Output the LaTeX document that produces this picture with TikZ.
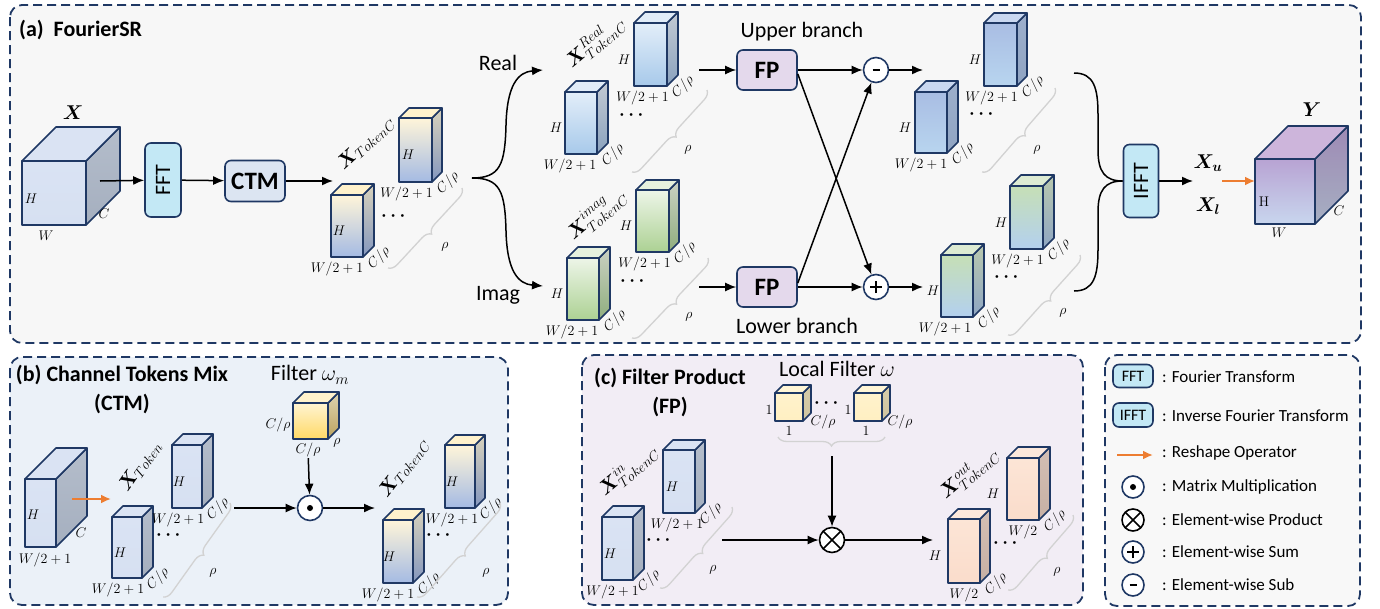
\RequirePackage{fix-cm}
\documentclass[tikz,border=0pt]{standalone}
\usepackage{amsmath,bm}
\usepackage{fontspec}
\setmainfont{Carlito}
\usetikzlibrary{positioning,calc,arrows.meta,decorations.pathreplacing}

\definecolor{navy}{HTML}{1F3864}
\definecolor{orng}{HTML}{ED7D31}
\definecolor{panela}{HTML}{F7F7F7}
\definecolor{panelb}{HTML}{EBF1F8}
\definecolor{panelc}{HTML}{F2EDF5}
\definecolor{panelg}{HTML}{F8F8F8}
\definecolor{fftfill}{HTML}{C3E8F5}
\definecolor{ctmfill}{HTML}{DCE5F2}
\definecolor{fpfill}{HTML}{E4D9EC}
% tensor colour sets: front top/bottom, side top/bottom, lid
\definecolor{plaintop}{HTML}{DAE3F3}\definecolor{plainbot}{HTML}{D6E0F2}
\definecolor{plainsidetop}{HTML}{B4BDCB}\definecolor{plainsidebot}{HTML}{A5AFBF}
\definecolor{plainlid}{HTML}{DAE3F3}
\definecolor{tokctop}{HTML}{FFF5D9}\definecolor{tokcbot}{HTML}{A4BAE3}
\definecolor{tokcsidetop}{HTML}{D8D2BC}\definecolor{tokcsidebot}{HTML}{8497BE}
\definecolor{tokclid}{HTML}{FFF2CC}
\definecolor{realtop}{HTML}{E3EEF9}\definecolor{realbot}{HTML}{A7C9EA}
\definecolor{realsidetop}{HTML}{C3CAD3}\definecolor{realsidebot}{HTML}{8AA2BE}
\definecolor{reallid}{HTML}{E1ECF8}
\definecolor{imagtop}{HTML}{EDF5E8}\definecolor{imagbot}{HTML}{ACD193}
\definecolor{imagsidetop}{HTML}{CBD2C4}\definecolor{imagsidebot}{HTML}{8FAD7D}
\definecolor{imaglid}{HTML}{E6F1DE}
\definecolor{upouttop}{HTML}{A9BDE3}\definecolor{upoutbot}{HTML}{B8D5EF}
\definecolor{upoutsidetop}{HTML}{9DAFCC}\definecolor{upoutsidebot}{HTML}{90A4C2}
\definecolor{upoutlid}{HTML}{C9D7F0}
\definecolor{lowouttop}{HTML}{C6DFB6}\definecolor{lowoutbot}{HTML}{B3D0EF}
\definecolor{lowoutsidetop}{HTML}{B9C8AE}\definecolor{lowoutsidebot}{HTML}{8EA6C3}
\definecolor{lowoutlid}{HTML}{DDEBD3}
\definecolor{ycubetop}{HTML}{B8A3D3}\definecolor{ycubebot}{HTML}{C8D6EE}
\definecolor{ycubesidetop}{HTML}{9E8AB5}\definecolor{ycubesidebot}{HTML}{A6AFC2}
\definecolor{ycubelid}{HTML}{CDB5DB}
\definecolor{filttop}{HTML}{FFF4D2}\definecolor{filtbot}{HTML}{FFD966}
\definecolor{filtsidetop}{HTML}{DDD3B0}\definecolor{filtsidebot}{HTML}{BBA35F}
\definecolor{filtlid}{HTML}{FFF2CC}
\definecolor{lfilttop}{HTML}{FFF2CC}\definecolor{lfiltbot}{HTML}{FFEFC2}
\definecolor{lfiltsidetop}{HTML}{D6CCAA}\definecolor{lfiltsidebot}{HTML}{CFC49F}
\definecolor{lfiltlid}{HTML}{FFF5D6}
\definecolor{outctop}{HTML}{FCE5D6}\definecolor{outcbot}{HTML}{FADCCB}
\definecolor{outcsidetop}{HTML}{D3BFB4}\definecolor{outcsidebot}{HTML}{C7B0A4}
\definecolor{outclid}{HTML}{FCE8DB}

\tikzset{
  panel/.style={draw=navy, dash pattern=on 9pt off 5pt, line width=1.8pt, rounded corners=12pt},
  face/.style={draw=navy, line width=1.6pt, line join=round, inner sep=0pt, outer sep=0pt},
  arr/.style={-{Latex[length=11pt,width=9pt]}, line width=1.5pt},
  reshape/.style={-{Latex[length=10pt,width=9pt]}, line width=2pt, draw=orng},
  dim/.style={font=\fontsize{14}{16}\selectfont, inner sep=1pt},
  big/.style={font=\fontsize{20}{24}\selectfont, inner sep=1pt},
  txt/.style={font=\fontsize{22}{26}\selectfont, inner sep=1pt},
  lgtxt/.style={font=\fontsize{17}{19}\selectfont, inner sep=1pt, anchor=west},
  ttl/.style={font=\fontsize{22}{29}\selectfont\bfseries, inner sep=1pt, align=center},
  dots/.style={font=\fontsize{18}{18}\selectfont, inner sep=0pt},
  opbox/.style={draw=navy, line width=1.6pt, rounded corners=6pt, inner sep=0pt},
  fpfont/.style={font=\fontsize{25}{28}\selectfont\bfseries},
  op/.style={circle, draw=navy, fill=white, line width=1.6pt, minimum size=25pt, inner sep=0pt},
  plusop/.style={op, path picture={
    \draw[black, line width=1.6pt] ([xshift=-6pt]path picture bounding box.center) -- ([xshift=6pt]path picture bounding box.center)
      ([yshift=-6pt]path picture bounding box.center) -- ([yshift=6pt]path picture bounding box.center);}},
  minusop/.style={op, path picture={
    \draw[black, line width=2pt] ([xshift=-3.5pt]path picture bounding box.center) -- ([xshift=3.5pt]path picture bounding box.center);}},
  dotop/.style={op, path picture={\fill[black] (path picture bounding box.center) circle (3pt);}},
  prodop/.style={op, draw=black, path picture={
    \draw[black, line width=1.6pt] (path picture bounding box.north west) -- (path picture bounding box.south east)
      (path picture bounding box.north east) -- (path picture bounding box.south west);}},
  rhobrace/.style={decorate, decoration={brace, amplitude=9pt}, draw=gray!35, line width=1.3pt},
}

% front face as a node, side and lid drawn from its corners
\newcommand{\cuboid}[7]{% name, x, y, width, height, depth, colour set
  \node[face, anchor=north west, minimum width=#4pt, minimum height=#5pt,
        top color=#7top, bottom color=#7bot] (#1) at (#2,#3) {};
  \draw[face, top color=#7sidetop, bottom color=#7sidebot]
    (#1.north east) -- ++(#6,-#6) -- ++(0,#5) -- ++(-#6,#6) -- cycle;
  \draw[face, fill=#7lid]
    (#1.north west) -- ++(#6,-#6) -- ++(#4,0) -- ++(-#6,#6) -- cycle;
}
% slanted text
\newcommand{\tiltlabel}[5]{% name, position, angle, style, text
  \begin{scope}[shift={(#2)}, rotate=#3]
    \node[#4, transform shape] (#1) at (0,0) {#5};
  \end{scope}
}
% H, width and C/rho around a token
\newcommand{\tokenlabels}[4]{% name, H shift, bottom text, bottom shift
  \node[dim] (#1-h) at ([xshift=#2pt,yshift=-5pt]#1.west) {$H$};
  \node[dim] (#1-w) at ([xshift=#4pt,yshift=-12pt]#1.south) {$#3$};
  \tiltlabel{#1-c}{[xshift=16pt,yshift=-1pt]#1.south east}{45}{dim}{$C/\rho$}
}

\begin{document}
\begin{tikzpicture}[x=1pt,y=-1pt]
\useasboundingbox (0,0) rectangle (1380,608);

% Panels
\draw[panel, fill=panela] (10,5) rectangle (1361,343);
\draw[panel, fill=panelb] (10,357) rectangle (508,605);
\draw[panel, fill=panelc] (582,355) rectangle (1083,605);
\draw[panel, fill=panelg] (1105,355) rectangle (1360,606);

%% (a) FourierSR
\node[ttl, anchor=west] (ta) at (18,30) {(a)~~FourierSR};

% input
\cuboid{X}{22}{161}{64}{64}{34}{plain}
\node[big] (Xlab) at (73,113) {$\bm{X}$};
\node[dim] (Xh) at (31,199) {$H$};
\node[dim] (Xw) at (46,236) {$W$};
\node[dim] (Xc) at (104,214) {$C$};

% FFT and CTM
\coordinate (xout) at (100,181);
\node[opbox, fill=fftfill, minimum width=36pt, minimum height=74pt, txt] (fft) at (163,180) {\rotatebox{90}{FFT}};
\node[opbox, fill=ctmfill, minimum width=60pt, minimum height=41pt, fpfont] (ctm) at (255,181) {CTM};
\coordinate (tcin) at (333,181);
\draw[arr] (xout) -- (fft);
\draw[arr] (fft) -- (ctm);
\draw[arr] (ctm) -- (tcin);

% channel tokens
\cuboid{tca}{331}{195}{32}{62}{11}{tokc}
\cuboid{tcb}{399}{118}{33}{64}{10}{tokc}
\tokenlabels{tca}{8}{W/2+1}{-10}
\tokenlabels{tcb}{9}{W/2+1}{-9}
\node[dots] (tcdots) at (395,216) {$\bm{\cdots}$};
\draw[rhobrace] (462,188) -- (388,268);
\node[dim] (tcrho) at (445,247) {$\rho$};
\tiltlabel{tclab}{366,143}{42}{big}{$\bm{X}_{TokenC}$}

% real / imaginary split
\coordinate (split) at (472,178);
\coordinate (realin) at (543,70);
\coordinate (imagin) at (543,286);
\draw[arr] (split) .. controls (500,178) and (505,165) .. (506,125) .. controls (507,85) and (518,72) .. (realin);
\draw[arr] (split) .. controls (500,178) and (505,191) .. (506,231) .. controls (507,271) and (518,284) .. (imagin);
\node[txt] (lreal) at (498,63) {Real};
\node[txt] (limag) at (498,295) {Imag};

% real tokens
\cuboid{rea}{565}{92}{32}{62}{11}{real}
\cuboid{reb}{634}{23}{33}{63}{11}{real}
\tokenlabels{rea}{-9}{W/2+1}{-11}
\tokenlabels{reb}{-10}{W/2+1}{-8}
\node[dots] (redots) at (633,115) {$\bm{\cdots}$};
\draw[rhobrace] (707,90) -- (632,172);
\node[dim] (rerho) at (688,150) {$\rho$};
\tiltlabel{relab}{595,42}{40}{big}{$\bm{X}^{Real}_{TokenC}$}

% imaginary tokens
\cuboid{ima}{567}{258}{32}{62}{11}{imag}
\cuboid{imb}{636}{190}{33}{62}{10}{imag}
\tokenlabels{ima}{-10}{W/2+1}{-11}
\tokenlabels{imb}{-10}{W/2+1}{-8}
\node[dots] (imdots) at (634,281) {$\bm{\cdots}$};
\draw[rhobrace] (708,258) -- (632,338);
\node[dim] (imrho) at (689,317) {$\rho$};
\tiltlabel{imlab}{596,214}{40}{big}{$\bm{X}^{imag}_{TokenC}$}

% filter products and cross connections
\coordinate (realout) at (699,70);
\coordinate (imagout) at (699,287);
\node[opbox, fill=fpfill, minimum width=60pt, minimum height=40pt, fpfont] (fpup) at (767,70) {FP};
\node[opbox, fill=fpfill, minimum width=60pt, minimum height=40pt, fpfont] (fplow) at (767,287) {FP};
\node[txt] (lup) at (802,32) {Upper branch};
\node[txt] (llow) at (797,326) {Lower branch};
\node[minusop] (sub) at (876,70) {};
\node[plusop] (add) at (876,287) {};
\coordinate (subout) at (923,70);
\coordinate (addout) at (923,287);
\draw[arr] (realout) -- (fpup);
\draw[arr] (imagout) -- (fplow);
\draw[arr] (fpup) -- (sub);
\draw[arr] (fplow) -- (add);
\draw[arr] ([yshift=-4pt]fpup.east) -- (add);
\draw[arr] ([yshift=4pt]fplow.east) -- (sub);
\draw[arr] (sub) -- (subout);
\draw[arr] (add) -- (addout);

% upper branch output
\cuboid{upa}{915}{92}{32}{61}{11}{upout}
\cuboid{upb}{984}{23}{33}{63}{10}{upout}
\tokenlabels{upa}{-10}{W/2+1}{-10}
\tokenlabels{upb}{-9}{W/2+1}{-9}
\node[dots] (updots) at (983,114) {$\bm{\cdots}$};
\draw[rhobrace] (1055,88) -- (982,172);
\node[dim] (uprho) at (1037,150) {$\rho$};

% lower branch output
\cuboid{loa}{941}{255}{32}{62}{11}{lowout}
\cuboid{lob}{1010}{186}{33}{63}{11}{lowout}
\tokenlabels{loa}{-8}{W/2+1}{-12}
\tokenlabels{lob}{-9}{W/2+1}{-9}
\node[dots] (lodots) at (1008,277) {$\bm{\cdots}$};
\draw[rhobrace] (1080,255) -- (1008,335);
\node[dim] (lorho) at (1063,313) {$\rho$};

% merge and IFFT
\coordinate (mu) at (1074,73);
\coordinate (ml) at (1074,291);
\node[opbox, fill=fftfill, minimum width=35pt, minimum height=73pt, txt] (ifft) at (1141,181) {\rotatebox{90}{IFFT}};
\draw[line width=1.5pt] (mu) .. controls (1094,73) and (1098,88) .. (1098,115) -- (1098,150) .. controls (1098,172) and (1105,181) .. (ifft.west);
\draw[line width=1.5pt] (ml) .. controls (1094,291) and (1098,276) .. (1098,249) -- (1098,212) .. controls (1098,190) and (1105,181) .. (ifft.west);
\coordinate (ifftout) at (1193,181);
\draw[arr] (ifft) -- (ifftout);
\node[big] (xu) at (1208,163) {$\bm{X_u}$};
\node[big] (xl) at (1208,206) {$\bm{X_l}$};

% output
\cuboid{Y}{1255}{159}{60}{65}{33}{ycube}
\coordinate (rsa) at (1222,181);
\draw[reshape] (rsa) -- (rsa -| Y.west);
\node[big] (Ylab) at (1312,110) {$\bm{Y}$};
\node[dim] (Yh) at (1264,202) {\fontfamily{lmr}\selectfont H};
\node[dim] (Yw) at (1279,233) {$W$};
\node[dim] (Yc) at (1339,211) {$C$};

%% (b) Channel Tokens Mix
\node[ttl] (tb) at (122,389) {(b) Channel Tokens Mix\\(CTM)};
\cuboid{Xb}{25}{479}{31}{68}{31}{plain}
\node[dim] (Xbh) at (33,515) {$H$};
\node[dim] (Xbc) at (81,533) {$C$};
\node[dim] (Xbw) at (45,560) {$W/2+1$};
\coordinate (rbs) at (72,499);
\coordinate (rbe) at (111,499);
\draw[reshape] (rbs) -- (rbe);

\cuboid{tka}{112}{517}{30}{61}{11}{plain}
\cuboid{tkb}{172}{445}{30}{63}{11}{plain}
\tokenlabels{tka}{8}{W/2+1}{-9}
\tokenlabels{tkb}{7}{W/2+1}{-9}
\node[dots] (tkdots) at (170,535) {$\bm{\cdots}$};
\draw[rhobrace] (230,503) -- (163,597);
\node[dim] (tkrho) at (213,573) {$\rho$};
\tiltlabel{tklab}{140,466}{55}{big}{$\bm{X}_{Token}$}

% filter
\node[txt] (lfm) at (310,375) {Filter $\omega_m$};
\cuboid{wm}{293}{403}{35}{36}{11}{filt}
\node[dim] (wml) at (278,425) {$C/\rho$};
\node[dim] (wmb) at (308,450) {$C/\rho$};
\node[dim] (wmr) at (337,443) {$\rho$};
\node[dotop] (mm) at (310,508) {};
\coordinate (bin) at (234,508);
\coordinate (bout) at (375,508);
\draw[arr] (wmb) -- (mm);
\draw[arr] (bin) -- (mm);
\draw[arr] (mm) -- (bout);

\cuboid{bta}{383}{520}{30}{63}{11}{tokc}
\cuboid{btb}{445}{445}{30}{63}{10}{tokc}
\tokenlabels{bta}{6}{W/2+1}{-10}
\tokenlabels{btb}{7}{W/2+1}{-8}
\node[dots] (btdots) at (440,535) {$\bm{\cdots}$};
\draw[rhobrace] (500,503) -- (417,597);
\node[dim] (btrho) at (486,573) {$\rho$};
\tiltlabel{btlab}{404,468}{52}{big}{$\bm{X}_{TokenC}$}

%% (c) Filter Product
\node[ttl] (tc) at (670,392) {(c) Filter Product\\(FP)};
\node[txt] (llf) at (837,369) {Local Filter $\omega$};
\cuboid{lfa}{775}{393}{28}{28}{8}{lfilt}
\cuboid{lfb}{854}{393}{28}{28}{8}{lfilt}
\node[dim] (lfa-h) at (769,410) {$1$};
\node[dim] (lfa-w) at (789,431) {$1$};
\node[dim] (lfa-c) at (823,422) {$C/\rho$};
\node[dim] (lfb-h) at (848,410) {$1$};
\node[dim] (lfb-w) at (866,431) {$1$};
\node[dim] (lfb-c) at (900,422) {$C/\rho$};
\node[dots] (lfdots) at (828,403) {$\bm{\cdots}$};
\draw[rhobrace] (885,437) -- (778,437);
\coordinate (lftip) at (832,456);
\node[prodop] (ep) at (832,540) {};
\coordinate (cin) at (722,540);
\coordinate (cout) at (933,540);
\draw[arr] (lftip) -- (ep);
\draw[arr] (cin) -- (ep);
\draw[arr] (ep) -- (cout);

\cuboid{cia}{602}{517}{31}{63}{11}{plain}
\cuboid{cib}{663}{450}{32}{63}{10}{plain}
\tokenlabels{cia}{8}{W/2+1}{-5}
\tokenlabels{cib}{9}{W/2+1}{-2}
\node[dots] (cidots) at (660,540) {$\bm{\cdots}$};
\draw[rhobrace] (732,507) -- (660,588);
\node[dim] (cirho) at (713,570) {$\rho$};
\tiltlabel{cilab}{628,470}{40}{big}{$\bm{X}^{in}_{TokenC}$}

\cuboid{coa}{948}{519}{32}{64}{10}{outc}
\cuboid{cob}{1007}{458}{32}{62}{11}{outc}
\tokenlabels{coa}{-13}{W/2}{0}
\tokenlabels{cob}{-14}{W/2}{0}
\node[dots] (codots) at (1007,543) {$\bm{\cdots}$};
\draw[rhobrace] (1073,515) -- (1008,590);
\node[dim] (corho) at (1057,572) {$\rho$};
\tiltlabel{colab}{969,473}{40}{big}{$\bm{X}^{out}_{TokenC}$}

%% Legend
\node[opbox, fill=fftfill, minimum width=40pt, minimum height=23pt, font=\fontsize{16}{18}\selectfont] (lgfft) at (1133,376) {FFT};
\node[lgtxt] (lgfftt) at (1161,377) {: Fourier Transform};
\node[opbox, fill=fftfill, minimum width=40pt, minimum height=24pt, font=\fontsize{16}{18}\selectfont] (lgifft) at (1133,415) {IFFT};
\node[lgtxt] (lgifftt) at (1161,416) {: Inverse Fourier Transform};
\coordinate (lgra) at (1117,455);
\coordinate (lgrb) at (1153,455);
\draw[reshape] (lgra) -- (lgrb);
\node[lgtxt] (lgrt) at (1161,453) {: Reshape Operator};
\node[dotop, minimum size=22pt] (lgdot) at (1133,487) {};
\node[lgtxt] (lgdott) at (1161,487) {: Matrix Multiplication};
\node[prodop, minimum size=22pt] (lgprod) at (1133,520) {};
\node[lgtxt] (lgprodt) at (1161,520) {: Element-wise Product};
\node[plusop, minimum size=22pt] (lgadd) at (1133,552) {};
\node[lgtxt] (lgaddt) at (1161,552) {: Element-wise Sum};
\node[minusop, minimum size=22pt] (lgsub) at (1133,585) {};
\node[lgtxt] (lgsubt) at (1161,585) {: Element-wise Sub};
\end{tikzpicture}
\end{document}
